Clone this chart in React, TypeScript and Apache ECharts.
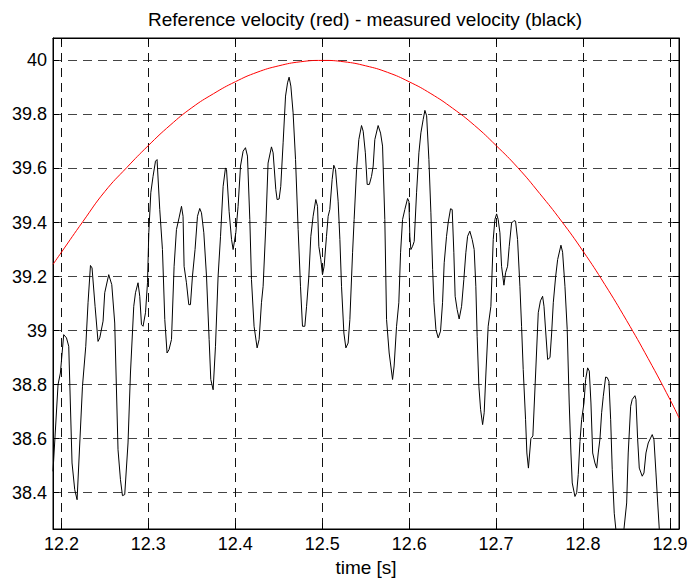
import React, { useEffect, useRef } from "react";
import * as echarts from "echarts";

const chartTitle = "Reference velocity (red) - measured velocity (black)";
const xAxisName = "time [s]";

const xTicks = [12.2, 12.3, 12.4, 12.5, 12.6, 12.7, 12.8, 12.9];
const yTicks = [38.4, 38.6, 38.8, 39, 39.2, 39.4, 39.6, 39.8, 40];
const xRange = [12.1903, 12.9104];
const yRange = [38.2656, 40.083];

const referenceTime = [
  12.1903, 12.2, 12.225, 12.25, 12.275, 12.3, 12.325, 12.35, 12.375, 12.4, 12.425,
  12.45, 12.475, 12.5, 12.525, 12.55, 12.575, 12.6, 12.625, 12.65, 12.675, 12.7,
  12.725, 12.75, 12.775, 12.8, 12.825, 12.85, 12.875, 12.9, 12.9104,
];
const referenceVelocity = [
  39.245, 39.29, 39.405, 39.515, 39.603, 39.685, 39.76, 39.825, 39.877, 39.921, 39.956,
  39.98, 39.995, 40.0, 39.995, 39.98, 39.956, 39.921, 39.877, 39.823, 39.76, 39.685,
  39.603, 39.508, 39.406, 39.294, 39.171, 39.038, 38.896, 38.745, 38.677,
];

const measuredTime = [
  12.1903, 12.1961, 12.1988, 12.2026, 12.2058, 12.2084, 12.2122, 12.2153, 12.218, 12.2242,
  12.228, 12.2306, 12.2334, 12.2352, 12.2387, 12.2421, 12.2441, 12.2479, 12.2498, 12.2544,
  12.2579, 12.2613, 12.2651, 12.2679, 12.2702, 12.2728, 12.2766, 12.2794, 12.2832, 12.2852,
  12.2881, 12.2901, 12.2921, 12.2939, 12.2967, 12.299, 12.3005, 12.3028, 12.3054, 12.3082,
  12.31, 12.3131, 12.3162, 12.3189, 12.3215, 12.3238, 12.3266, 12.3296, 12.3323, 12.3353,
  12.3381, 12.3399, 12.3411, 12.3438, 12.3465, 12.3484, 12.3507, 12.3537, 12.3565, 12.3591,
  12.3611, 12.3638, 12.3669, 12.3699, 12.3718, 12.3745, 12.3772, 12.3802, 12.383, 12.386,
  12.3887, 12.3899, 12.3929, 12.3957, 12.3975, 12.4006, 12.4032, 12.406, 12.409, 12.4117,
  12.414, 12.4167, 12.4186, 12.4216, 12.4251, 12.4274, 12.4301, 12.432, 12.4351, 12.4377,
  12.4416, 12.4435, 12.4466, 12.4481, 12.4504, 12.4523, 12.455, 12.4578, 12.4601, 12.4619,
  12.4639, 12.4665, 12.4693, 12.4723, 12.475, 12.4773, 12.48, 12.482, 12.4846, 12.4869,
  12.4895, 12.4926, 12.4946, 12.4961, 12.4984, 12.5003, 12.5022, 12.5049, 12.5068, 12.5087,
  12.5114, 12.5133, 12.5153, 12.5183, 12.5203, 12.5222, 12.5249, 12.5272, 12.5298, 12.5318,
  12.5349, 12.5367, 12.5395, 12.5421, 12.5452, 12.5471, 12.5496, 12.5517, 12.5542, 12.5567,
  12.5586, 12.5605, 12.5643, 12.5671, 12.5694, 12.572, 12.574, 12.577, 12.5809, 12.5827,
  12.5855, 12.5881, 12.5901, 12.5924, 12.595, 12.5982, 12.5997, 12.6008, 12.602, 12.6039,
  12.6058, 12.6085, 12.6112, 12.6135, 12.6161, 12.6181, 12.6201, 12.6227, 12.625, 12.627,
  12.6285, 12.6308, 12.6334, 12.6361, 12.6384, 12.6403, 12.643, 12.6449, 12.6476, 12.6495,
  12.6514, 12.6529, 12.6552, 12.6575, 12.6603, 12.6629, 12.6652, 12.6672, 12.6698, 12.6725,
  12.6748, 12.6767, 12.6782, 12.6802, 12.6822, 12.6845, 12.6863, 12.6883, 12.6909, 12.694,
  12.6967, 12.6986, 12.7006, 12.7024, 12.7044, 12.7063, 12.709, 12.7109, 12.7132, 12.7151,
  12.7178, 12.7205, 12.7224, 12.7247, 12.7274, 12.7293, 12.7312, 12.7339, 12.7354, 12.7372,
  12.74, 12.7423, 12.7455, 12.7485, 12.751, 12.7535, 12.7551, 12.7574, 12.7593, 12.762,
  12.7639, 12.7658, 12.7685, 12.7708, 12.7746, 12.7765, 12.7792, 12.7818, 12.7841, 12.7861,
  12.7876, 12.7907, 12.7927, 12.7945, 12.7965, 12.7984, 12.8011, 12.803, 12.8053, 12.8072,
  12.8091, 12.8111, 12.8137, 12.8157, 12.8175, 12.8195, 12.8214, 12.8233, 12.826, 12.8279,
  12.8298, 12.8318, 12.8336, 12.8359, 12.8379, 12.8425, 12.8471, 12.8502, 12.852, 12.8548,
  12.8566, 12.8597, 12.8609, 12.8628, 12.8647, 12.8681, 12.8701, 12.8724, 12.875, 12.8796,
  12.8816, 12.8839, 12.8859, 12.8877, 12.8908,
];
const measuredVelocity = [
  38.479, 38.8, 38.843, 38.985, 38.973, 38.942, 38.51, 38.411, 38.374, 38.794,
  38.942, 39.103, 39.241, 39.232, 39.09, 38.96, 38.973, 39.035, 39.14, 39.207,
  39.17, 39.028, 38.559, 38.448, 38.389, 38.393, 38.584, 38.843, 39.09, 39.14,
  39.177, 39.127, 39.022, 39.016, 39.066, 39.177, 39.362, 39.51, 39.571, 39.627,
  39.633, 39.448, 39.3, 39.041, 38.917, 38.93, 38.967, 39.238, 39.374, 39.417,
  39.46, 39.423, 39.238, 39.177, 39.096, 39.096, 39.201, 39.3, 39.423, 39.452,
  39.436, 39.362, 39.2, 38.967, 38.819, 38.781, 38.942, 39.2, 39.349, 39.534,
  39.602, 39.596, 39.44, 39.337, 39.3, 39.362, 39.46, 39.609, 39.664, 39.677,
  39.646, 39.411, 39.189, 39.016, 38.936, 38.967, 39.103, 39.164, 39.386, 39.62,
  39.68, 39.658, 39.522, 39.485, 39.487, 39.534, 39.695, 39.868, 39.917, 39.938,
  39.905, 39.806, 39.633, 39.374, 39.164, 39.016, 39.016, 39.09, 39.2, 39.349,
  39.423, 39.485, 39.46, 39.312, 39.263, 39.207, 39.238, 39.349, 39.423, 39.448,
  39.559, 39.612, 39.596, 39.479, 39.337, 39.164, 38.991, 38.936, 38.954, 39.041,
  39.288, 39.411, 39.596, 39.707, 39.759, 39.738, 39.658, 39.541, 39.541, 39.571,
  39.609, 39.707, 39.759, 39.731, 39.683, 39.411, 39.041, 38.917, 38.819, 38.869,
  39.016, 39.103, 39.288, 39.411, 39.448, 39.489, 39.478, 39.349, 39.3, 39.312,
  39.33, 39.51, 39.658, 39.732, 39.781, 39.815, 39.795, 39.633, 39.436, 39.226,
  39.103, 39.004, 38.973, 38.998, 39.103, 39.251, 39.349, 39.4, 39.451, 39.448,
  39.288, 39.127, 39.078, 39.043, 39.09, 39.189, 39.288, 39.349, 39.368, 39.337,
  39.3, 39.164, 38.979, 38.794, 38.707, 38.652, 38.696, 38.843, 39.016, 39.09,
  39.337, 39.411, 39.432, 39.411, 39.362, 39.238, 39.168, 39.214, 39.238, 39.312,
  39.398, 39.407, 39.405, 39.337, 39.164, 39.016, 38.856, 38.67, 38.547, 38.491,
  38.6, 38.61, 38.843, 39.066, 39.11, 39.127, 39.09, 38.98, 38.893, 38.9,
  38.991, 39.103, 39.2, 39.263, 39.316, 39.29, 39.164, 39.004, 38.732, 38.547,
  38.436, 38.386, 38.4, 38.467, 38.59, 38.67, 38.732, 38.819, 38.862, 38.85,
  38.732, 38.547, 38.51, 38.491, 38.547, 38.6, 38.696, 38.757, 38.828, 38.826,
  38.812, 38.67, 38.485, 38.324, 38.26, 38.18, 38.266, 38.362, 38.547, 38.72,
  38.745, 38.759, 38.745, 38.6, 38.491, 38.461, 38.473, 38.547, 38.584, 38.615,
  38.596, 38.473, 38.362, 38.266, 38.15,
];

const FONT = "'Liberation Sans', Arial, Helvetica, sans-serif";

export default function App() {
  const ref = useRef<HTMLDivElement>(null);

  useEffect(() => {
    if (!ref.current) return;
    const chart = echarts.init(ref.current, null, { renderer: "svg" });

    const baseX = {
      type: "value" as const,
      min: xRange[0],
      max: xRange[1],
    };
    const baseY = {
      type: "value" as const,
      min: yRange[0],
      max: yRange[1],
    };
    const axisLineStyle = { show: true, onZero: false, lineStyle: { color: "#000", width: 1 } };

    chart.setOption({
      animation: false,
      backgroundColor: "#fff",
      title: {
        text: chartTitle,
        left: 143,
        top: 5,
        textStyle: { fontFamily: FONT, fontSize: 19, fontWeight: "normal", color: "#000" },
      },
      grid: {
        left: 53,
        right: 14,
        top: 38,
        bottom: 54,
        show: true,
        borderColor: "#000",
        borderWidth: 1,
        backgroundColor: "#fff",
      },
      xAxis: [
        {
          ...baseX,
          position: "bottom",
          name: xAxisName,
          nameLocation: "middle",
          nameGap: 27,
          nameTextStyle: { fontFamily: FONT, fontSize: 19, color: "#000" },
          axisLine: axisLineStyle,
          axisTick: { show: true, inside: true, length: 6, customValues: xTicks, lineStyle: { color: "#000" } },
          axisLabel: {
            show: true,
            margin: 6,
            customValues: xTicks,
            fontFamily: FONT,
            fontSize: 18,
            color: "#000",
            formatter: (v: number) => String(Math.round(v * 10) / 10),
          },
          splitLine: { show: true, lineStyle: { color: "#111", type: [9, 6], width: 1 } },
        },
        {
          ...baseX,
          position: "top",
          axisLine: axisLineStyle,
          axisTick: { show: true, inside: true, length: 6, customValues: xTicks, lineStyle: { color: "#000" } },
          axisLabel: { show: false },
          splitLine: { show: false },
        },
      ],
      yAxis: [
        {
          ...baseY,
          position: "left",
          axisLine: axisLineStyle,
          axisTick: { show: true, inside: true, length: 6, customValues: yTicks, lineStyle: { color: "#000" } },
          axisLabel: {
            show: true,
            margin: 6,
            customValues: yTicks,
            fontFamily: FONT,
            fontSize: 18,
            color: "#000",
            formatter: (v: number) => String(Math.round(v * 10) / 10),
          },
          splitLine: { show: true, lineStyle: { color: "#444", type: [9, 6], width: 1 } },
        },
        {
          ...baseY,
          position: "right",
          axisLine: axisLineStyle,
          axisTick: { show: true, inside: true, length: 6, customValues: yTicks, lineStyle: { color: "#000" } },
          axisLabel: { show: false },
          splitLine: { show: false },
        },
      ],
      series: [
        {
          name: "measured",
          type: "line",
          xAxisIndex: 0,
          yAxisIndex: 0,
          data: measuredTime.map((t, i) => [t, measuredVelocity[i]]),
          showSymbol: false,
          symbol: "none",
          smooth: false,
          clip: true,
          lineStyle: { color: "#000", width: 1 },
          z: 3,
        },
        {
          name: "reference",
          type: "line",
          xAxisIndex: 0,
          yAxisIndex: 0,
          data: referenceTime.map((t, i) => [t, referenceVelocity[i]]),
          showSymbol: false,
          symbol: "none",
          smooth: true,
          clip: true,
          lineStyle: { color: "#ff0000", width: 1 },
          z: 4,
        },
      ],
    });

    return () => chart.dispose();
  }, []);

  return (
    <div
      ref={ref}
      style={{ position: "fixed", left: 0, top: 0, width: 693, height: 583, background: "#fff" }}
    />
  );
}
